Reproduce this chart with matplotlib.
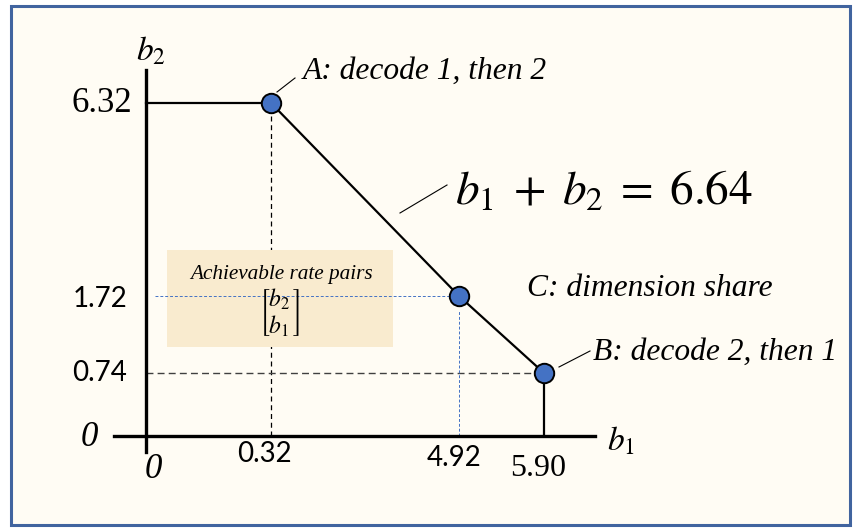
import numpy as np
import matplotlib.pyplot as plt
from matplotlib.patches import Rectangle

plt.rcParams['mathtext.fontset'] = 'stix'

# corner points of the rate region (b1, b2): A, C, B
b1_pts = [0.32, 4.92, 5.90]
b2_pts = [6.32, 1.72, 0.74]
sum_rate = 6.64

x_tick_vals = [0.32, 4.92, 5.90]
x_tick_labels = ["0.32", "4.92", "5.90"]
y_tick_vals = [6.32, 1.72, 0.74]
y_tick_labels = ["6.32", "1.72", "0.74"]

W, H = 856, 530

# the sketch is not to scale -> piecewise linear value->pixel mapping
x_anchor_val = [-1, 0, 0.32, 4.92, 5.90, 7]
x_anchor_px = [0, 146, 271, 459, 544, 856]
y_anchor_val = [-1, 0, 0.74, 1.72, 6.32, 8]
y_anchor_px = [0, H - 436, H - 373, H - 296, H - 103, H]

def xfwd(v): return np.interp(v, x_anchor_val, x_anchor_px)
def xinv(p): return np.interp(p, x_anchor_px, x_anchor_val)
def yfwd(v): return np.interp(v, y_anchor_val, y_anchor_px)
def yinv(p): return np.interp(p, y_anchor_px, y_anchor_val)

def P(px, py):
    # pixel position (from top-left) -> axes fraction
    return (px / W, 1 - py / H)

SERIF = 'Liberation Serif'
SANS = 'Lato'
BLUE = '#4472C4'

fig = plt.figure(figsize=(W / 100, H / 100), dpi=100)
fig.patch.set_facecolor('white')
ax = fig.add_axes([0, 0, 1, 1])
ax.set_xscale('function', functions=(xfwd, xinv))
ax.set_yscale('function', functions=(yfwd, yinv))
ax.set_xlim(-1, 7)
ax.set_ylim(-1, 8)
ax.patch.set_visible(False)

# frame
ax.add_patch(Rectangle(P(11, 525), (850 - 11) / W, (525 - 6) / H, transform=ax.transAxes,
                       facecolor='#FFFCF4', edgecolor='#41649F', lw=2.2, zorder=0))

# axes lines
for s in ['top', 'right']:
    ax.spines[s].set_visible(False)
ax.spines['left'].set_position(('data', 0))
ax.spines['bottom'].set_position(('data', 0))
ax.spines['left'].set_bounds(yinv(H - 452), yinv(H - 70))
ax.spines['bottom'].set_bounds(xinv(114), xinv(595))
for s in ['left', 'bottom']:
    ax.spines[s].set_linewidth(2.4)
    ax.spines[s].set_zorder(4)
ax.set_xticks([])
ax.set_yticks([])

# achievable region box
ax.add_patch(Rectangle(P(167, 347), (393 - 167) / W, (347 - 250) / H, transform=ax.transAxes,
                       facecolor='#F9EBCF', edgecolor='none', zorder=2))

# dashed guides
ax.plot([b1_pts[0], b1_pts[0]], [0, b2_pts[0]], ls=(0, (4, 3)), color='black', lw=0.9, zorder=1)
ax.plot([0, b1_pts[2]], [b2_pts[2], b2_pts[2]], ls=(0, (5, 3)), color='#404040', lw=1.0, zorder=3)
ax.plot([xinv(155), b1_pts[1]], [b2_pts[1], b2_pts[1]], ls=(0, (3, 2)), color=BLUE, lw=0.7, zorder=3)
ax.plot([b1_pts[1], b1_pts[1]], [0, yinv(H - 310)], ls=(0, (3, 2)), color=BLUE, lw=0.7, zorder=3)

# region boundary
ax.plot([0] + b1_pts + [b1_pts[2]], [b2_pts[0]] + b2_pts + [0], color='black', lw=1.6, zorder=4)
ax.plot(b1_pts, b2_pts, 'o', ms=14, mfc=BLUE, mec='black', mew=1.4, zorder=5)

# tick labels
x_off = [(-7, -18), (-5, -22), (-6, -32)]
for v, lab, off in zip(x_tick_vals, x_tick_labels, x_off):
    fam = SERIF if lab == "5.90" else SANS
    fs = 23 if lab == "5.90" else 20
    ax.annotate(lab, (v, 0), xytext=off, textcoords='offset pixels', ha='center', va='center',
                family=fam, fontsize=fs)
y_off = [(-14, -1), (-19, -3), (-19, 0)]
for v, lab, off in zip(y_tick_vals, y_tick_labels, y_off):
    fam = SERIF if lab == "6.32" else SANS
    fs = 25 if lab == "6.32" else 20
    ax.annotate(lab, (0, v), xytext=off, textcoords='offset pixels', ha='right', va='center',
                family=fam, fontsize=fs)
ax.annotate("0", (0, 0), xytext=(-57, -2), textcoords='offset pixels', ha='center', va='center',
            family=SERIF, style='italic', fontsize=25)
ax.annotate("0", (0, 0), xytext=(7, -34), textcoords='offset pixels', ha='center', va='center',
            family=SERIF, style='italic', fontsize=25)

# axis names
ax.text(*P(151, 51), r'$b_2$', transform=ax.transAxes, ha='center', va='center', fontsize=24)
ax.text(*P(621, 441), r'$b_1$', transform=ax.transAxes, ha='center', va='center', fontsize=24)

# annotations
lab_kw = dict(transform=ax.transAxes, family=SERIF, style='italic', fontsize=22.7, va='center')
ax.text(*P(303, 71), "A: decode 1, then 2", **lab_kw)
ax.text(*P(527, 288), "C: dimension share", **lab_kw)
ax.text(*P(593, 352), "B: decode 2, then 1", **lab_kw)
ax.text(*P(455, 192), r'$b_1\;+\;b_2\;=\;%.2f$' % sum_rate, transform=ax.transAxes,
        fontsize=34, va='center', ha='left')

for (x0, y0), (x1, y1) in [((277, 92), (295, 78)), ((400, 213), (447, 185)), ((559, 367), (590, 351))]:
    ax.plot([x0 / W, x1 / W], [1 - y0 / H, 1 - y1 / H], transform=ax.transAxes, color='black', lw=0.8, zorder=4)

ax.text(*P(281, 275), "Achievable rate pairs", transform=ax.transAxes, family=SERIF,
        style='italic', fontsize=15.3, ha='center', va='center', zorder=6)
ax.text(*P(280, 313), r'$\genfrac{[}{]}{0}{0}{b_2}{b_1}$', transform=ax.transAxes,
        fontsize=17, ha='center', va='center', zorder=6)

fig.savefig('out.png', dpi=100)
